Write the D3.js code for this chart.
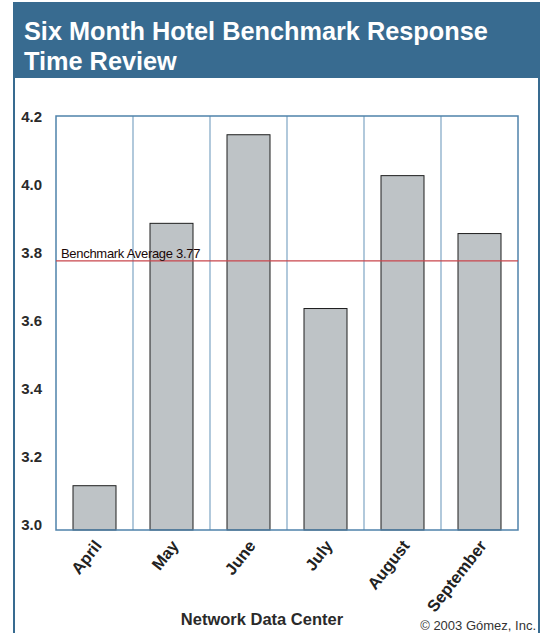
<!DOCTYPE html>
<html>
<head>
<meta charset="utf-8">
<script src="https://cdn.jsdelivr.net/npm/d3@7"></script>
<style>
  html, body { margin: 0; padding: 0; background: #fff; }
  svg { display: block; font-family: "Liberation Sans", Arial, Helvetica, sans-serif; }
</style>
</head>
<body>
<svg id="chart" width="543" height="633"></svg>
<script>
// Monthly average response time (seconds) per month
const months = ["April", "May", "June", "July", "August", "September"];
const responseTimes = [3.11, 3.88, 4.14, 3.63, 4.02, 3.85];
const benchmarkAverage = 3.77;
const yTicks = [3.0, 3.2, 3.4, 3.6, 3.8, 4.0, 4.2];
const titleLines = ["Six Month Hotel Benchmark Response", "Time Review"];

const svg = d3.select("#chart");
const W = 543, H = 633;
const panel = { left: 14, right: 539, headerBottom: 78 };
const plot = { left: 56, right: 518, top: 116, bottom: 530 };
const blue = "#386b90";

// Header band and panel frame
svg.append("rect")
  .attr("x", panel.left - 1).attr("y", 2)
  .attr("width", panel.right - panel.left + 2).attr("height", panel.headerBottom - 2)
  .attr("fill", blue);
svg.append("line")
  .attr("x1", panel.left).attr("x2", panel.left)
  .attr("y1", panel.headerBottom).attr("y2", H)
  .attr("stroke", blue).attr("stroke-width", 2);
svg.append("line")
  .attr("x1", panel.right).attr("x2", panel.right)
  .attr("y1", panel.headerBottom).attr("y2", H)
  .attr("stroke", blue).attr("stroke-width", 2);

svg.append("g").selectAll("text")
  .data(titleLines)
  .join("text")
  .attr("x", 24)
  .attr("y", (d, i) => 40 + i * 30)
  .attr("fill", "#fff")
  .attr("font-size", 25.3)
  .attr("font-weight", "bold")
  .text(d => d);

// Scales
const x = d3.scaleBand()
  .domain(months)
  .range([plot.left, plot.right])
  .paddingInner(0)
  .paddingOuter(0);

const y = d3.scaleLinear()
  .domain([2.98, 4.195])
  .range([plot.bottom, plot.top]);

// Vertical separators between months
const bounds = months.slice(1).map(m => x(m));
svg.append("g").selectAll("line")
  .data(bounds)
  .join("line")
  .attr("x1", d => d).attr("x2", d => d)
  .attr("y1", plot.top).attr("y2", plot.bottom)
  .attr("stroke", "#7ea5c4").attr("stroke-width", 1.2);

// Bars
const barW = 43;
svg.append("g").selectAll("rect")
  .data(months.map((m, i) => ({ m, v: responseTimes[i] })))
  .join("rect")
  .attr("x", d => x(d.m) + (x.bandwidth() - barW) / 2)
  .attr("y", d => y(d.v))
  .attr("width", barW)
  .attr("height", d => y.range()[0] - y(d.v))
  .attr("fill", "#bec3c6")
  .attr("stroke", "#1e1e1e")
  .attr("stroke-width", 1);

// Plot frame
svg.append("rect")
  .attr("x", plot.left).attr("y", plot.top)
  .attr("width", plot.right - plot.left).attr("height", plot.bottom - plot.top)
  .attr("fill", "none")
  .attr("stroke", "#4f82ab").attr("stroke-width", 1.5);

// Benchmark average line
svg.append("line")
  .attr("x1", plot.left).attr("x2", plot.right)
  .attr("y1", y(benchmarkAverage)).attr("y2", y(benchmarkAverage))
  .attr("stroke", "#c8464c").attr("stroke-width", 1.2);
svg.append("text")
  .attr("x", 61)
  .attr("y", y(benchmarkAverage) - 3)
  .attr("font-size", 13)
  .attr("letter-spacing", -0.3)
  .attr("fill", "#1a0808")
  .text("Benchmark Average " + benchmarkAverage.toFixed(2));

// Y axis labels
const yAxis = d3.axisLeft(y)
  .tickValues(yTicks)
  .tickFormat(d3.format(".1f"))
  .tickSize(0)
  .tickPadding(0);
const gy = svg.append("g")
  .attr("transform", `translate(42,0)`)
  .call(yAxis);
gy.select(".domain").remove();
gy.selectAll("text")
  .attr("font-size", 15)
  .attr("font-weight", "bold")
  .attr("font-family", "'Liberation Sans', Arial, sans-serif")
  .attr("fill", "#2a2a2a")
  .attr("dy", "0.45em");

// Month labels
const xAxis = d3.axisBottom(x).tickSize(0).tickPadding(0);
const gx = svg.append("g")
  .attr("transform", `translate(0,${plot.bottom})`)
  .call(xAxis);
gx.select(".domain").remove();
gx.selectAll("text")
  .attr("font-size", 16.5)
  .attr("font-weight", "bold")
  .attr("font-family", "'Liberation Sans', Arial, sans-serif")
  .attr("fill", "#222")
  .attr("text-anchor", "end")
  .attr("dy", 0)
  .attr("transform", "translate(8,16) rotate(-52)");

// Axis title and credit
svg.append("text")
  .attr("x", 262).attr("y", 625)
  .attr("text-anchor", "middle")
  .attr("font-size", 16.5)
  .attr("font-weight", "bold")
  .attr("fill", "#2a2a2a")
  .text("Network Data Center");
svg.append("text")
  .attr("x", 536).attr("y", 630)
  .attr("text-anchor", "end")
  .attr("font-size", 13)
  .attr("fill", "#333")
  .text("© 2003 Gómez, Inc.");
</script>
</body>
</html>
